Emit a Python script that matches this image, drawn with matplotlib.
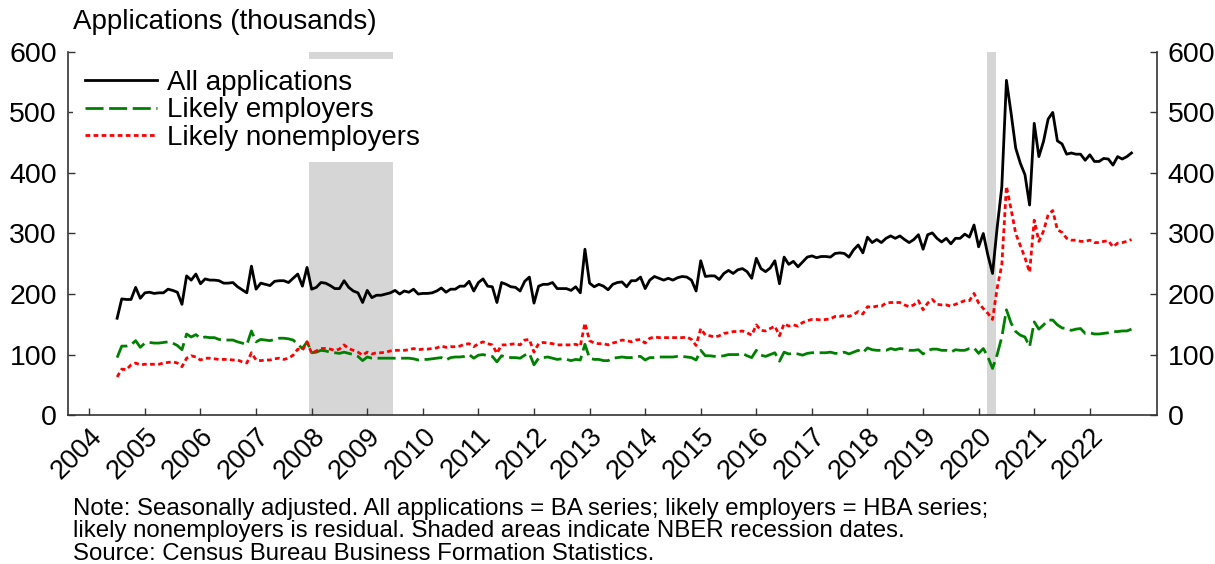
import matplotlib
matplotlib.use("Agg")
import matplotlib.pyplot as plt
import numpy as np

plt.rcParams['font.family'] = ['Liberation Sans', 'DejaVu Sans']

# monthly, Jul 2004 - Oct 2022 (thousands)
start_year = 2004.5
all_apps = [
    160, 192, 191, 191, 211, 193, 202, 203, 201, 202, 202, 208,
    206, 203, 183, 230, 223, 233, 217, 225, 223, 223, 222, 218,
    218, 219, 212, 207, 202, 246, 208, 218, 216, 214, 221, 222,
    222, 219, 226, 233, 213, 244, 208, 211, 219, 218, 214, 209,
    209, 222, 211, 205, 202, 186, 206, 194, 198, 198, 200, 202,
    206, 200, 205, 203, 208, 200, 201, 201, 202, 205, 210, 203,
    208, 208, 213, 213, 221, 205, 219, 225, 213, 212, 186, 219,
    216, 212, 211, 205, 221, 228, 185, 213, 216, 216, 219, 209,
    209, 209, 206, 212, 202, 274, 218, 212, 216, 213, 207, 216,
    219, 220, 212, 222, 222, 228, 209, 223, 229, 226, 223, 226,
    223, 227, 229, 228, 223, 205, 255, 229, 230, 230, 224, 234,
    239, 234, 240, 242, 237, 226, 259, 242, 237, 243, 255, 217,
    261, 249, 254, 245, 253, 261, 263, 260, 262, 262, 261, 267,
    268, 267, 261, 273, 281, 268, 294, 285, 290, 285, 292, 296,
    292, 296, 290, 285, 290, 298, 274, 298, 301, 292, 286, 292,
    283, 292, 292, 299, 294, 314, 278, 300, 264, 234, 310, 377,
    553, 499, 441, 416, 397, 347, 482, 427, 452, 489, 500, 453,
    448, 431, 433, 431, 431, 421, 430, 419, 419, 424, 423, 413,
    427, 423, 427, 433,
]
employers = [
    95, 114, 114, 116, 123, 112, 119, 120, 119, 119, 120, 121,
    119, 115, 108, 134, 129, 133, 127, 129, 128, 128, 125, 124,
    124, 124, 121, 119, 116, 139, 121, 125, 124, 123, 125, 127,
    127, 126, 124, 117, 110, 121, 103, 104, 107, 106, 104, 103,
    102, 104, 102, 100, 97, 90, 96, 94, 94, 94, 94, 94,
    94, 94, 94, 94, 93, 91, 92, 92, 93, 94, 95, 91,
    95, 96, 96, 97, 100, 94, 99, 100, 98, 97, 88, 98,
    96, 95, 95, 94, 99, 102, 83, 94, 95, 96, 94, 92,
    93, 92, 90, 92, 91, 117, 94, 92, 92, 90, 90, 94,
    95, 96, 95, 95, 97, 97, 91, 95, 95, 96, 96, 96,
    96, 97, 97, 96, 95, 91, 107, 98, 98, 97, 97, 98,
    100, 100, 100, 102, 98, 95, 107, 99, 97, 100, 103, 89,
    104, 101, 102, 101, 99, 102, 103, 103, 103, 103, 104, 102,
    102, 104, 101, 104, 107, 103, 111, 108, 107, 107, 107, 110,
    108, 110, 109, 107, 107, 108, 101, 107, 109, 109, 107, 107,
    104, 108, 107, 107, 110, 111, 102, 110, 96, 77, 100, 129,
    174, 152, 138, 132, 129, 113, 154, 142, 149, 157, 157, 149,
    144, 143, 140, 142, 143, 135, 136, 134, 134, 135, 136, 138,
    138, 139, 139, 142,
]
nonemployers = [
    63, 76, 75, 83, 86, 83, 84, 84, 84, 84, 86, 87,
    88, 86, 80, 94, 98, 96, 91, 94, 94, 93, 92, 92,
    92, 91, 91, 88, 86, 103, 91, 90, 91, 91, 93, 94,
    92, 94, 99, 109, 107, 121, 102, 106, 110, 110, 109, 107,
    109, 116, 110, 107, 104, 99, 104, 101, 103, 103, 104, 106,
    107, 107, 107, 108, 110, 108, 109, 109, 110, 111, 114, 112,
    113, 113, 114, 117, 118, 113, 118, 121, 118, 116, 102, 116,
    116, 117, 118, 116, 124, 125, 104, 118, 120, 119, 118, 116,
    116, 116, 116, 117, 114, 152, 123, 119, 118, 118, 116, 119,
    121, 124, 123, 121, 124, 125, 119, 127, 129, 128, 128, 128,
    128, 128, 128, 129, 125, 115, 143, 132, 131, 129, 131, 135,
    136, 138, 138, 139, 136, 132, 149, 140, 139, 143, 147, 131,
    151, 147, 149, 147, 153, 156, 158, 158, 157, 158, 159, 163,
    163, 165, 163, 166, 171, 167, 179, 178, 180, 180, 185, 186,
    186, 186, 182, 179, 182, 189, 174, 185, 191, 183, 182, 182,
    180, 183, 186, 189, 189, 201, 185, 176, 168, 158, 210, 248,
    378, 340, 300, 280, 260, 236, 322, 287, 304, 331, 338, 306,
    302, 292, 289, 289, 287, 287, 289, 285, 285, 287, 288, 278,
    284, 285, 287, 290,
]
rec_start = [2007.96, 2020.15]
rec_end = [2009.46, 2020.31]
years = list(range(2004, 2023))

t = start_year + np.arange(len(all_apps)) / 12

fig = plt.figure(figsize=(12.15, 5.64), dpi=100)
ax = fig.add_axes([0.056, 0.264, 0.896, 0.644])

for s, e in zip(rec_start, rec_end):
    ax.axvspan(s, e, color='#d6d6d6', lw=0, zorder=0)

ax.plot(t, all_apps, color='black', lw=2.0, label='All applications', zorder=3)
ax.plot(t, employers, color='#008000', lw=2.0, dashes=(6.5, 2.0),
        label='Likely employers', zorder=3)
ax.plot(t, nonemployers, color='red', lw=2.0, dashes=(1.7, 1.2),
        label='Likely nonemployers', zorder=3)

ax.set_xlim(2003.617, 2023.203)
ax.set_ylim(0, 600)
ax.set_yticks(range(0, 601, 100))
ax.set_xticks(years)
ax.set_xticklabels([str(y) for y in years], rotation=45, ha='right',
                   rotation_mode='anchor', fontsize=19.5)
ax.tick_params(axis='y', labelsize=20.5, direction='in', length=5, width=1, pad=8,
               right=True, labelright=True, color='#333333')
ax.tick_params(axis='x', direction='in', length=5, width=1, pad=6, color='#333333')
ax.spines['top'].set_visible(False)
for sp in ['left', 'right', 'bottom']:
    ax.spines[sp].set_color('#333333')
    ax.spines[sp].set_linewidth(1.2)

leg = ax.legend(loc='upper left', bbox_to_anchor=(0.005, 0.981), fontsize=20,
                frameon=True, facecolor='white', edgecolor='none', framealpha=1,
                handlelength=2.6, handletextpad=0.35, labelspacing=0.05,
                borderpad=0.4, borderaxespad=0.0, fancybox=False)
leg.set_zorder(5)

fig.text(73 / 1215, 1 - 22 / 564, 'Applications (thousands)', fontsize=20,
         va='center', ha='left')
notes = [
    'Note: Seasonally adjusted. All applications = BA series; likely employers = HBA series;',
    'likely nonemployers is residual. Shaded areas indicate NBER recession dates.',
    'Source: Census Bureau Business Formation Statistics.',
]
for i, line in enumerate(notes):
    fig.text(73 / 1215, 1 - (509 + 22.5 * i) / 564, line, fontsize=17.3,
             va='center', ha='left')

fig.savefig('out.png', dpi=100)
